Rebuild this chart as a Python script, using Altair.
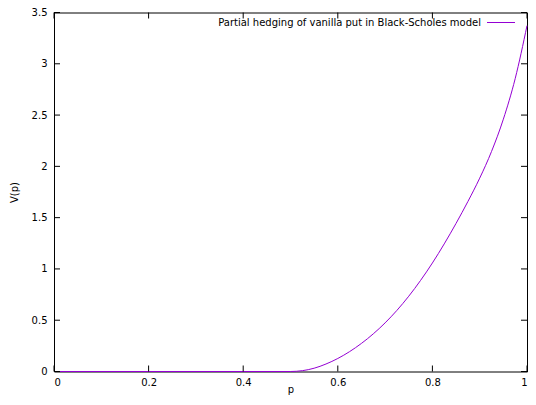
import altair as alt
import pandas as pd

# Data
p_values = [0.0, 0.5, 0.525, 0.55, 0.575, 0.6, 0.625, 0.65, 0.675, 0.7, 0.725,
            0.75, 0.775, 0.8, 0.825, 0.85, 0.875, 0.9, 0.925, 0.95, 0.975, 1.0]
v_values = [0.0, 0.0, 0.008, 0.032, 0.073, 0.127, 0.194, 0.274, 0.367, 0.474, 0.596,
            0.734, 0.888, 1.058, 1.244, 1.444, 1.657, 1.885, 2.145, 2.46, 2.855, 3.372]
x_ticks = [0, 0.2, 0.4, 0.6, 0.8, 1]
y_ticks = [0, 0.5, 1, 1.5, 2, 2.5, 3, 3.5]
legend_label = ["Partial hedging of vanilla put in Black-Scholes model"]

W, H = 473, 359
FONT = "DejaVu Sans"
FS = 10
LINE_COLOR = "#9400D3"
TICK = 6

xscale = alt.Scale(domain=[0, 1], nice=False, zero=False)
yscale = alt.Scale(domain=[0, 3.5], nice=False, zero=False)

x_axis = alt.Axis(
    values=x_ticks, format="~g", ticks=False, tickSize=0, domain=False, grid=False,
    labelPadding=6, labelFontSize=FS, labelFont=FONT, labelColor="black",
    title="p", titleFont=FONT, titleFontSize=FS, titleFontWeight="normal",
    titleColor="black", titleX=W / 2, titleY=21, titleBaseline="alphabetic")
y_axis = alt.Axis(
    values=y_ticks, format="~g", ticks=False, tickSize=0, domain=False, grid=False,
    labelPadding=7, labelFontSize=FS, labelFont=FONT, labelColor="black",
    title="V(p)", titleFont=FONT, titleFontSize=FS, titleFontWeight="normal",
    titleColor="black", titleX=-40, titleY=H / 2, titleAngle=-90,
    titleBaseline="middle", titleAlign="center")

df = pd.DataFrame({"p": p_values, "V": v_values})

line = alt.Chart(df).mark_line(color=LINE_COLOR, strokeWidth=1, interpolate="monotone").encode(
    x=alt.X("p:Q", scale=xscale, axis=x_axis),
    y=alt.Y("V:Q", scale=yscale, axis=y_axis),
)

ydf = pd.DataFrame({"V": y_ticks})
xdf = pd.DataFrame({"p": x_ticks})

ytick_left = alt.Chart(ydf).mark_rule(color="black", strokeWidth=1).encode(
    y=alt.Y("V:Q", scale=yscale, axis=y_axis), x=alt.value(0), x2=alt.value(TICK))
ytick_right = alt.Chart(ydf).mark_rule(color="black", strokeWidth=1).encode(
    y=alt.Y("V:Q", scale=yscale, axis=y_axis), x=alt.value(W - TICK), x2=alt.value(W))
xtick_bottom = alt.Chart(xdf).mark_rule(color="black", strokeWidth=1).encode(
    x=alt.X("p:Q", scale=xscale, axis=x_axis), y=alt.value(H - TICK), y2=alt.value(H))
xtick_top = alt.Chart(xdf).mark_rule(color="black", strokeWidth=1).encode(
    x=alt.X("p:Q", scale=xscale, axis=x_axis), y=alt.value(0), y2=alt.value(TICK))

ldf = pd.DataFrame({"label": legend_label})
legend_text = alt.Chart(ldf).mark_text(
    align="right", baseline="middle", font=FONT, fontSize=FS, color="black").encode(
    text="label:N", x=alt.value(W - 46), y=alt.value(10))
legend_line = alt.Chart(ldf).mark_rule(color=LINE_COLOR, strokeWidth=1).encode(
    x=alt.value(W - 40), x2=alt.value(W - 12), y=alt.value(10))

chart = alt.layer(
    line, ytick_left, ytick_right, xtick_bottom, xtick_top, legend_text, legend_line
).properties(
    width=W, height=H,
    autosize=alt.AutoSizeParams(type="none"),
    padding={"left": 46, "top": 4.5, "right": 1, "bottom": 25},
    background="white",
).configure_view(stroke="black", strokeWidth=1)

chart.save("out.html", embed_options={"renderer": "svg", "actions": False})
